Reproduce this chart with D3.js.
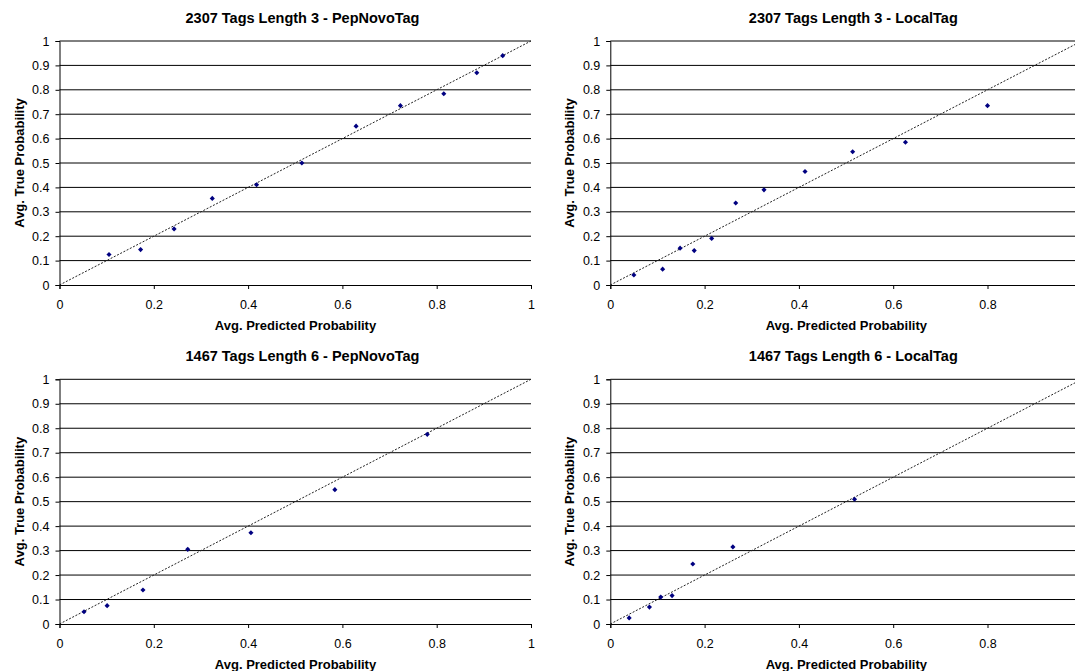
<!DOCTYPE html>
<html lang="en">
<head>
    <meta charset="UTF-8">
    <title>Calibration plots - PepNovoTag vs LocalTag</title>
    <script src="https://d3js.org/d3.v7.min.js"></script>
    <style>
        body { margin: 0; background: #fff; font-family: "Liberation Sans", Arial, sans-serif; }
        svg { display: block; }
        .title { font-size: 14.5px; font-weight: bold; text-anchor: middle; }
        .axis-title { font-size: 13px; font-weight: bold; text-anchor: middle; }
        .tick-label { font-size: 12.5px; fill: #000; }
    </style>
</head>
<body>
    <div id="chart"></div>
    <script>
        // chart data
        const titles = [
            "2307 Tags Length 3 - PepNovoTag",
            "2307 Tags Length 3 - LocalTag",
            "1467 Tags Length 6 - PepNovoTag",
            "1467 Tags Length 6 - LocalTag"
        ];
        const pepNovo3X = [0.105, 0.172, 0.243, 0.324, 0.418, 0.514, 0.629, 0.723, 0.815, 0.885, 0.940];
        const pepNovo3Y = [0.125, 0.145, 0.230, 0.355, 0.411, 0.500, 0.651, 0.735, 0.784, 0.870, 0.940];
        const localTag3X = [0.050, 0.111, 0.148, 0.178, 0.215, 0.266, 0.326, 0.413, 0.514, 0.626, 0.800];
        const localTag3Y = [0.041, 0.065, 0.151, 0.141, 0.191, 0.336, 0.390, 0.465, 0.546, 0.585, 0.735];
        const pepNovo6X = [0.052, 0.101, 0.177, 0.272, 0.406, 0.584, 0.780];
        const pepNovo6Y = [0.050, 0.075, 0.139, 0.305, 0.373, 0.549, 0.775];
        const localTag6X = [0.040, 0.083, 0.107, 0.131, 0.175, 0.260, 0.518];
        const localTag6Y = [0.025, 0.069, 0.110, 0.116, 0.245, 0.315, 0.510];
        const yTicks = [0, 0.1, 0.2, 0.3, 0.4, 0.5, 0.6, 0.7, 0.8, 0.9, 1];
        const xTicksLeft = [0, 0.2, 0.4, 0.6, 0.8, 1];
        const xTicksRight = [0, 0.2, 0.4, 0.6, 0.8];   // right panels are cut at the page edge
        const xLabel = "Avg. Predicted Probability";
        const yLabel = "Avg. True Probability";

        const width = 1075;
        const height = 671;

        const seriesX = [pepNovo3X, localTag3X, pepNovo6X, localTag6X];
        const seriesY = [pepNovo3Y, localTag3Y, pepNovo6Y, localTag6Y];
        const xTicks = [xTicksLeft, xTicksRight, xTicksLeft, xTicksRight];

        // plot area of each panel (left, top of y=1, bottom of y=0)
        const lefts = [59.5, 610.3, 59.5, 610.3];
        const tops = [41, 41, 379.3, 379.3];
        const bottoms = [285, 285, 624, 624];
        const plotWidth = 471.5;

        const svg = d3.select("#chart")
            .append("svg")
            .attr("width", width)
            .attr("height", height);

        const fmt = d => d === 0 ? "0" : d === 1 ? "1" : d3.format(".1f")(d);

        titles.forEach((title, i) => {
            const left = lefts[i];
            const x = d3.scaleLinear().domain([0, 1]).range([left, left + plotWidth]);
            const y = d3.scaleLinear().domain([0, 1]).range([bottoms[i], tops[i]]);
            const g = svg.append("g");

            // horizontal gridlines
            g.selectAll(".grid")
                .data(yTicks.slice(1))
                .join("line")
                .attr("class", "grid")
                .attr("x1", x(0))
                .attr("x2", x(1))
                .attr("y1", d => y(d))
                .attr("y2", d => y(d))
                .attr("stroke", "#000")
                .attr("stroke-width", 1);

            // y axis
            const yAxis = g.append("g")
                .attr("transform", `translate(${x(0)},0)`)
                .call(d3.axisLeft(y).tickValues(yTicks).tickSize(4).tickPadding(6).tickFormat(fmt));
            yAxis.select(".domain").attr("stroke", "#000");
            yAxis.selectAll(".tick text").attr("class", "tick-label")
                .style("font-family", "'Liberation Sans', Arial, sans-serif");

            // x axis
            const xAxis = g.append("g")
                .attr("transform", `translate(0,${y(0)})`)
                .call(d3.axisBottom(x).tickValues(xTicks[i]).tickSize(4).tickPadding(11).tickFormat(fmt));
            xAxis.select(".domain").attr("stroke", "#000");
            xAxis.selectAll(".tick text").attr("class", "tick-label")
                .style("font-family", "'Liberation Sans', Arial, sans-serif");

            // y = x reference line
            g.append("line")
                .attr("x1", x(0))
                .attr("y1", y(0))
                .attr("x2", x(1))
                .attr("y2", y(1))
                .attr("stroke", "#222")
                .attr("stroke-width", 1)
                .attr("stroke-dasharray", "2,1.6");

            // data points
            const pts = seriesX[i].map((v, k) => ({ x: v, y: seriesY[i][k] }));
            g.selectAll(".pt")
                .data(pts)
                .join("path")
                .attr("class", "pt")
                .attr("d", d3.symbol(d3.symbolSquare, 13))
                .attr("transform", d => `translate(${x(d.x)},${y(d.y)}) rotate(45)`)
                .attr("fill", "#000080");

            // titles
            g.append("text")
                .attr("class", "title")
                .attr("x", left + 243)
                .attr("y", tops[i] - 18.5)
                .text(title);

            g.append("text")
                .attr("class", "axis-title")
                .attr("x", left + 236)
                .attr("y", bottoms[i] + 45)
                .text(xLabel);

            g.append("text")
                .attr("class", "axis-title")
                .attr("transform", `translate(${left - 36},${(tops[i] + bottoms[i]) / 2}) rotate(-90)`)
                .text(yLabel);
        });
    </script>
</body>
</html>
